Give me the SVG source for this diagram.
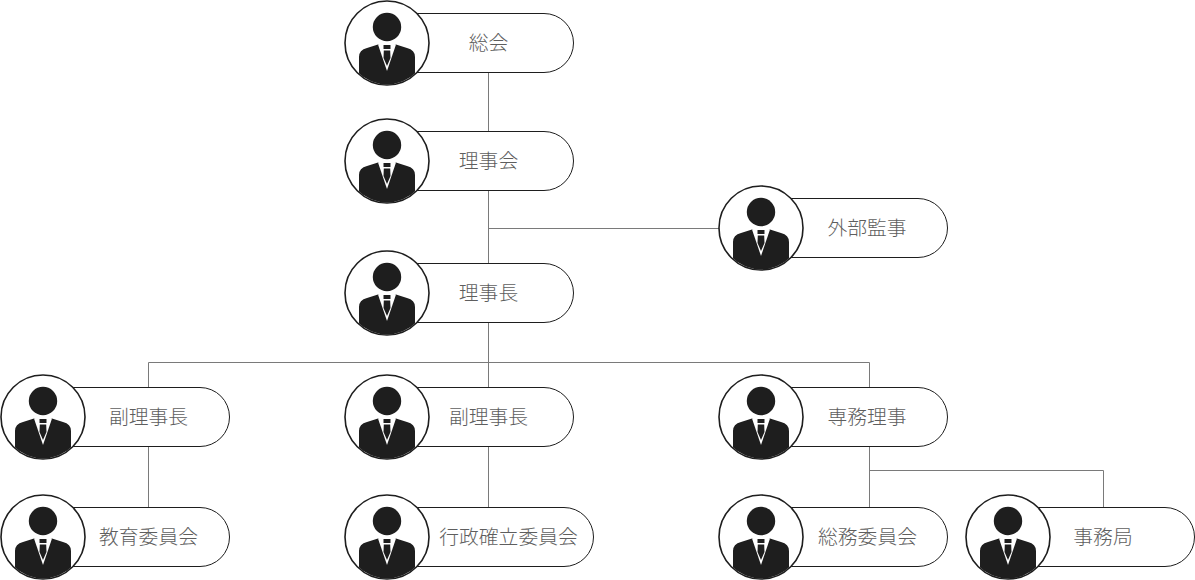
<svg xmlns="http://www.w3.org/2000/svg" width="1195" height="580" viewBox="0 0 1195 580">
<style>
.pill{fill:#fff;stroke:#1e1e1e;stroke-width:1}
.ring{fill:#fff;stroke:#1e1e1e;stroke-width:1.600}
.ink{fill:#1e1e1e}
.w{fill:#fff}
.lbl{font-family:"Noto Sans CJK JP","Noto Sans",sans-serif;font-weight:300;font-size:19.800px;fill:#5e5e5e;text-anchor:middle;dominant-baseline:central}
#connectors path{fill:none;stroke:#7a7a7a;stroke-width:1}
</style>
<defs>
<clipPath id="cc"><circle cx="0" cy="0" r="41.500"/></clipPath>
<g id="person">
<circle class="ring" cx="0" cy="0" r="42"/>
<g clip-path="url(#cc)">
<circle class="ink" cx="0" cy="-16" r="14.200"/>
<path class="ink" d="M-28 45V14Q-28 7 -20 5L-9 1.500H9L20 5Q28 7 28 14V45Z"/>
<path class="w" d="M-9 1.500L0 28L9 1.500L6 0.500H-6Z"/>
<path class="ink" d="M-3.500 2H3.500V6H-3.500ZM-3.200 7.500H3.200L3.500 15L0 23L-3.500 15Z"/>
</g>
</g>
</defs>
<g id="connectors">
<path d="M488.500 72V131M488.500 190V263M488.500 228.500H720M488.500 322V387M148.500 387V362.500H869.500V387M148.500 446V507M488.500 446V507M869.500 446V507M869.500 470.500H1103.500V507"/>
</g>
<g id="n1"><rect class="pill" x="387.500" y="13.500" width="186" height="59" rx="29.500"/><use href="#person" x="387" y="43"/><text class="lbl" x="488.500" y="41">総会</text></g>
<g id="n2"><rect class="pill" x="387.500" y="131.500" width="186" height="59" rx="29.500"/><use href="#person" x="387" y="161"/><text class="lbl" x="488.500" y="159">理事会</text></g>
<g id="n3"><rect class="pill" x="761.500" y="198.500" width="186" height="59" rx="29.500"/><use href="#person" x="761" y="228"/><text class="lbl" x="867" y="226">外部監事</text></g>
<g id="n4"><rect class="pill" x="387.500" y="263.500" width="186" height="59" rx="29.500"/><use href="#person" x="387" y="293"/><text class="lbl" x="488.500" y="291">理事長</text></g>
<g id="n5"><rect class="pill" x="43.500" y="387.500" width="186" height="59" rx="29.500"/><use href="#person" x="43" y="417"/><text class="lbl" x="148.500" y="415">副理事長</text></g>
<g id="n6"><rect class="pill" x="387.500" y="387.500" width="186" height="59" rx="29.500"/><use href="#person" x="387" y="417"/><text class="lbl" x="488.500" y="415">副理事長</text></g>
<g id="n7"><rect class="pill" x="761.500" y="387.500" width="186" height="59" rx="29.500"/><use href="#person" x="761" y="417"/><text class="lbl" x="867" y="415">専務理事</text></g>
<g id="n8"><rect class="pill" x="43.500" y="507.500" width="186" height="59" rx="29.500"/><use href="#person" x="43" y="537"/><text class="lbl" x="148.500" y="535">教育委員会</text></g>
<g id="n9"><rect class="pill" x="387.500" y="507.500" width="206" height="59" rx="29.500"/><use href="#person" x="387" y="537"/><text class="lbl" x="508.500" y="535">行政確立委員会</text></g>
<g id="n10"><rect class="pill" x="761.500" y="507.500" width="186" height="59" rx="29.500"/><use href="#person" x="761" y="537"/><text class="lbl" x="867.500" y="535">総務委員会</text></g>
<g id="n11"><rect class="pill" x="1008.500" y="507.500" width="186" height="59" rx="29.500"/><use href="#person" x="1008" y="537"/><text class="lbl" x="1103" y="535">事務局</text></g>
</svg>
